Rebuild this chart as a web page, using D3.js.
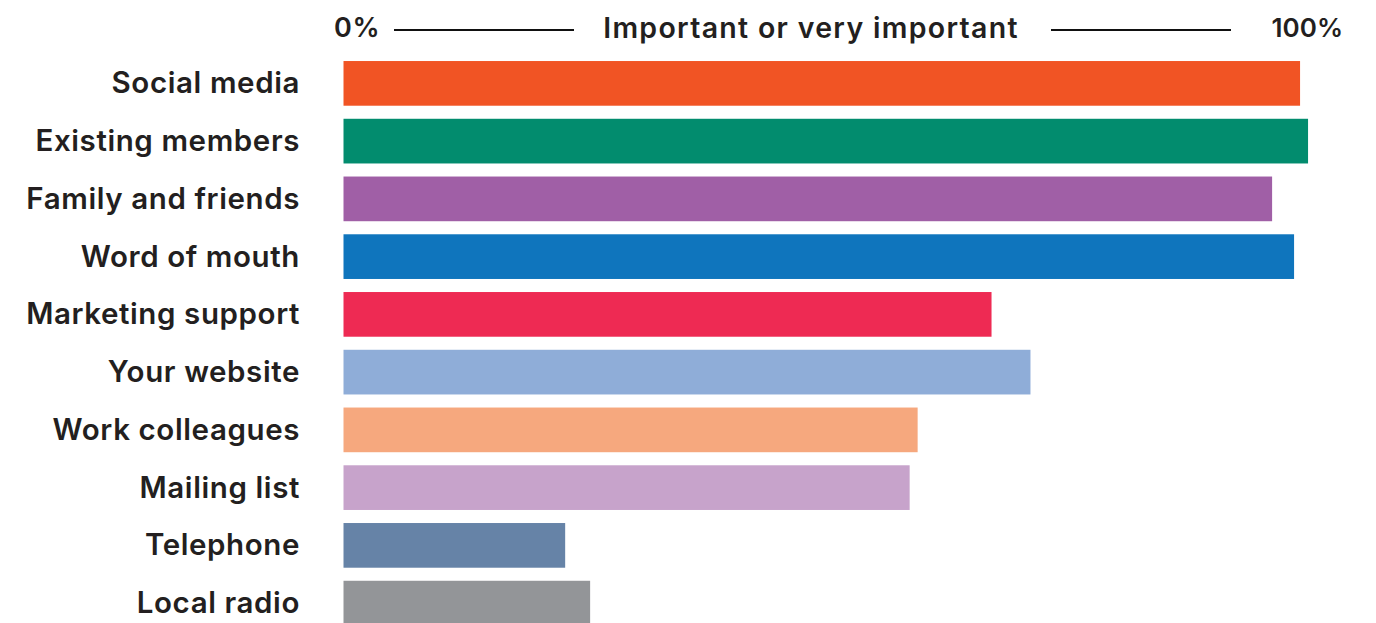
<!DOCTYPE html>
<html>
<head>
<meta charset="utf-8">
<script src="https://cdn.jsdelivr.net/npm/d3@7"></script>
<style>
  html, body { margin: 0; padding: 0; background: #ffffff; }
  svg { display: block; }
  text { font-family: "Inter", "Noto Sans", sans-serif; font-weight: 600; fill: #231f20; }
</style>
</head>
<body>
<svg id="chart" width="1376" height="623"></svg>
<script>
// Share of respondents rating each channel important or very important (%)
const categories = [
  "Social media", "Existing members", "Family and friends", "Word of mouth",
  "Marketing support", "Your website", "Work colleagues", "Mailing list",
  "Telephone", "Local radio"
];
const values = [95.8, 96.6, 93.0, 95.2, 64.9, 68.8, 57.5, 56.7, 22.2, 24.7];
const colors = [
  "#f15424", "#028c6e", "#a05fa6", "#0f75bd", "#ee2a53",
  "#8fadd8", "#f6a87e", "#c7a3cb", "#6683a7", "#939598"
];
const axisLabels = ["0%", "Important or very important", "100%"];

const svg = d3.select("#chart");

const x = d3.scaleLinear().domain([0, 100]).range([343.5, 1342]);
const y = d3.scaleBand()
  .domain(categories)
  .range([54.5, 632])
  .paddingInner(0.226)
  .paddingOuter(0.113);

// Bars
svg.append("g")
  .selectAll("rect")
  .data(categories)
  .join("rect")
  .attr("x", x(0))
  .attr("y", d => y(d))
  .attr("width", (d, i) => x(values[i]) - x(0))
  .attr("height", y.bandwidth())
  .attr("fill", (d, i) => colors[i]);

// Category labels, right-aligned to the left of the bars
svg.append("g")
  .selectAll("text")
  .data(categories)
  .join("text")
  .attr("x", 300)
  .attr("y", d => y(d) + y.bandwidth() / 2)
  .attr("dy", "0.34em")
  .attr("text-anchor", "end")
  .style("font-size", "29.5px")
  .style("letter-spacing", "0.6px")
  .text(d => d);

// Header scale: 0% ——— title ——— 100%
const header = svg.append("g").style("font-size", "27px");
const hy = 28;
header.append("text")
  .attr("x", 334).attr("y", hy).attr("dy", "0.34em")
  .attr("text-anchor", "start")
  .style("letter-spacing", "0.6px")
  .text(axisLabels[0]);
header.append("text")
  .attr("x", 811).attr("y", hy).attr("dy", "0.34em")
  .attr("text-anchor", "middle")
  .style("font-size", "28.5px")
  .style("letter-spacing", "1.3px")
  .text(axisLabels[1]);
header.append("text")
  .attr("x", 1343).attr("y", hy).attr("dy", "0.34em")
  .attr("text-anchor", "end")
  .style("font-size", "26px")
  .text(axisLabels[2]);

header.selectAll("line")
  .data([[394, 574], [1051, 1231]])
  .join("line")
  .attr("x1", d => d[0]).attr("x2", d => d[1])
  .attr("y1", hy + 2).attr("y2", hy + 2)
  .attr("stroke", "#111111")
  .attr("stroke-width", 2);
</script>
</body>
</html>
